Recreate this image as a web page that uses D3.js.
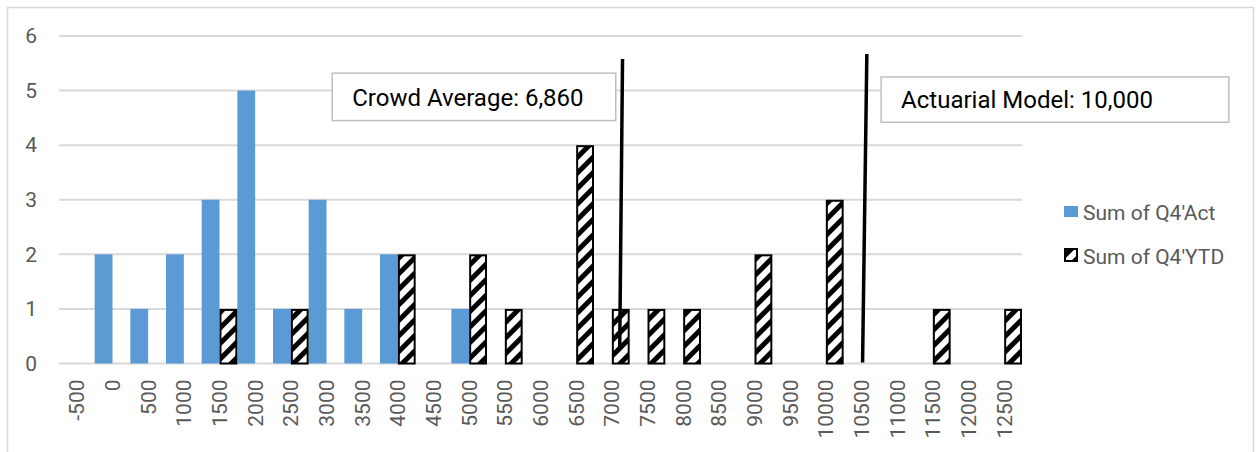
<!DOCTYPE html>
<html>
<head>
<meta charset="utf-8">
<script src="https://cdn.jsdelivr.net/npm/d3@7"></script>
<style>
  body { margin: 0; background: #fff; }
  text { font-family: Roboto, "Noto Sans", sans-serif; }
</style>
</head>
<body>
<div id="my_chart"></div>
<script>
// categories and the two series
var bins = ["-500","0","500","1000","1500","2000","2500","3000","3500","4000","4500","5000","5500",
  "6000","6500","7000","7500","8000","8500","9000","9500","10000","10500","11000","11500","12000","12500"];
var act = [0,2,1,2,3,5,1,3,1,2,0,1,0,0,0,0,0,0,0,0,0,0,0,0,0,0,0];
var ytd = [0,0,0,0,1,0,1,0,0,2,0,2,1,0,4,1,1,1,0,2,0,3,0,0,1,0,1];
var yTicks = [0,1,2,3,4,5,6];

// annotation lines, in axis values (x) and counts (y)
var crowdLine = [[7150, 5.58], [7110, 0.25]];
var modelLine = [[10575, 5.67], [10515, 0.02]];
var boxes = [
  {label: "Crowd Average: 6,860", x0: 3080, x1: 7055, y0: 5.32, y1: 4.45},
  {label: "Actuarial Model: 10,000", x0: 10775, x1: 15650, y0: 5.25, y1: 4.42}
];
var legendNames = ["Sum of Q4'Act", "Sum of Q4'YTD"];

var W = 1258, H = 452;
var margin = {top: 36, left: 59, right: 236, bottom: 88.5};

var svg = d3.select("#my_chart")
.append("svg")
  .attr("width", W)
  .attr("height", H);

var defs = svg.append("defs");
var pat = defs.append("pattern")
  .attr("id", "hatch")
  .attr("patternUnits", "userSpaceOnUse")
  .attr("width", 11)
  .attr("height", 11)
  .attr("patternTransform", "rotate(45)");
pat.append("rect").attr("width", 11).attr("height", 11).attr("fill", "#fff");
pat.append("rect").attr("width", 5).attr("height", 11).attr("fill", "#000");

// outer frame
svg.append("rect")
  .attr("x", 7.5).attr("y", 7.5)
  .attr("width", 1246).attr("height", 470)
  .attr("fill", "#fff")
  .attr("stroke", "#d9d9d9")
  .attr("stroke-width", 1.5);

var x = d3.scaleBand()
  .domain(bins)
  .range([margin.left, W - margin.right])
  .padding(0);
var x1 = d3.scaleBand()
  .domain(["act", "ytd"])
  .range([0, x.bandwidth()]);
var y = d3.scaleLinear()
  .domain([0, 6])
  .range([H - margin.bottom, margin.top]);
// value scale for annotations
var xv = d3.scaleLinear()
  .domain([-500, 12500])
  .range([x("-500") + x.bandwidth() / 2, x("12500") + x.bandwidth() / 2]);

// gridlines
svg.append("g")
  .selectAll("line")
  .data(yTicks)
  .enter()
  .append("line")
  .attr("x1", margin.left)
  .attr("x2", W - margin.right)
  .attr("y1", function(d) { return y(d); })
  .attr("y2", function(d) { return y(d); })
  .attr("stroke", "#d9d9d9")
  .attr("stroke-width", 2);

// y labels
var yAxis = svg.append("g")
  .attr("transform", "translate(" + (margin.left - 13) + ",0)")
  .call(d3.axisLeft(y).tickValues(yTicks).tickSize(0).tickPadding(9).tickFormat(d3.format("d")));
yAxis.select(".domain").remove();
yAxis.selectAll("text")
  .attr("fill", "#595959")
  .style("font-size", "21px");

// x labels
var xAxis = svg.append("g")
  .attr("transform", "translate(0," + (H - margin.bottom) + ")")
  .call(d3.axisBottom(x).tickSize(0).tickPadding(0));
xAxis.select(".domain").remove();
xAxis.selectAll("text")
  .attr("fill", "#595959")
  .style("font-size", "21px")
  .attr("text-anchor", "end")
  .attr("transform", "rotate(-90)")
  .attr("x", -16)
  .attr("y", 0)
  .attr("dy", "0.36em");

// bars
var actData = bins.map(function(b, i) { return {bin: b, value: act[i]}; })
  .filter(function(d) { return d.value > 0; });
var ytdData = bins.map(function(b, i) { return {bin: b, value: ytd[i]}; })
  .filter(function(d) { return d.value > 0; });

svg.append("g")
  .selectAll("rect")
  .data(actData)
  .enter()
  .append("rect")
  .attr("x", function(d) { return x(d.bin) + x1("act"); })
  .attr("y", function(d) { return y(d.value); })
  .attr("width", x1.bandwidth())
  .attr("height", function(d) { return y(0) - y(d.value); })
  .attr("fill", "#5b9bd5");

svg.append("g")
  .selectAll("rect")
  .data(ytdData)
  .enter()
  .append("rect")
  .attr("x", function(d) { return x(d.bin) + x1("ytd") + 1; })
  .attr("y", function(d) { return y(d.value) + 1; })
  .attr("width", x1.bandwidth() - 2)
  .attr("height", function(d) { return y(0) - y(d.value) - 1; })
  .attr("fill", "url(#hatch)")
  .attr("stroke", "#000")
  .attr("stroke-width", 2);

// annotation lines
var line = d3.line()
  .x(function(d) { return xv(d[0]); })
  .y(function(d) { return y(d[1]); });
[crowdLine, modelLine].forEach(function(l) {
  svg.append("path")
    .attr("d", line(l))
    .attr("fill", "none")
    .attr("stroke", "#000")
    .attr("stroke-width", 3.5);
});

// annotation boxes
boxes.forEach(function(b) {
  var g = svg.append("g");
  g.append("rect")
    .attr("x", xv(b.x0))
    .attr("y", y(b.y0))
    .attr("width", xv(b.x1) - xv(b.x0))
    .attr("height", y(b.y1) - y(b.y0))
    .attr("fill", "#fff")
    .attr("stroke", "#bfbfbf")
    .attr("stroke-width", 1.5);
  g.append("text")
    .attr("x", xv(b.x0) + 20)
    .attr("y", (y(b.y0) + y(b.y1)) / 2)
    .attr("dy", "0.36em")
    .attr("fill", "#000")
    .style("font-size", "24px")
    .text(b.label);
});

// legend
var legend = svg.append("g")
  .attr("transform", "translate(1064,206)");
legend.append("rect")
  .attr("width", 14).attr("height", 11)
  .attr("fill", "#5b9bd5");
legend.append("rect")
  .attr("x", 1).attr("y", 43)
  .attr("width", 12).attr("height", 12)
  .attr("fill", "url(#hatch)")
  .attr("stroke", "#000")
  .attr("stroke-width", 2);
legend.selectAll("text")
  .data(legendNames)
  .enter()
  .append("text")
  .attr("x", 19)
  .attr("y", function(d, i) { return 6 + i * 44; })
  .attr("dy", "0.36em")
  .attr("fill", "#595959")
  .style("font-size", "21px")
  .text(function(d) { return d; });
</script>
</body>
</html>
